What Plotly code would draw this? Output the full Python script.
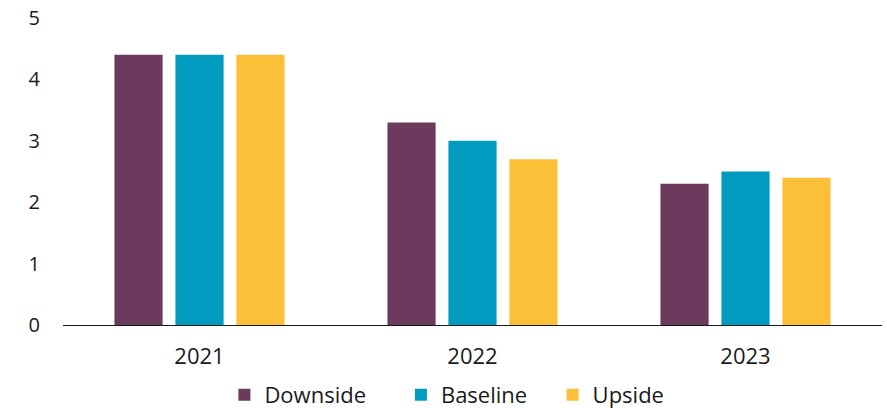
import plotly.graph_objects as go

years = ["2021", "2022", "2023"]
downside = [4.4, 3.3, 2.3]
baseline = [4.4, 3.0, 2.5]
upside = [4.4, 2.7, 2.4]

series = [("Downside", downside, "#6B3A5C", "legend", 0.253),
          ("Baseline", baseline, "#009BBE", "legend2", 0.452),
          ("Upside", upside, "#FBC037", "legend3", 0.623)]

fig = go.Figure()
legend_layout = {}
for name, vals, col, leg, lx in series:
    fig.add_trace(go.Bar(x=years, y=vals, name=name, marker_color=col,
                         marker_line_width=0, legend=leg))
    legend_layout[leg] = dict(orientation="h", xref="container", x=lx, xanchor="left",
                              yref="container", y=0.032, yanchor="middle",
                              font=dict(size=22), itemwidth=30,
                              bgcolor="rgba(0,0,0,0)")

fig.update_layout(
    width=887, height=408,
    margin=dict(l=63, r=5, t=18, b=83, autoexpand=False),
    paper_bgcolor="white", plot_bgcolor="white",
    font=dict(family="Open Sans, sans-serif", size=22, color="#1a1a1a"),
    barmode="group", bargap=0.33, bargroupgap=0.21,
    showlegend=True,
    xaxis=dict(showline=True, linecolor="#1a1a1a", linewidth=1, ticks="",
               showgrid=False, ticklabelstandoff=12, tickfont=dict(size=22)),
    yaxis=dict(range=[0, 5], dtick=1, showgrid=False, zeroline=False,
               showline=False, ticks="", ticklabelstandoff=22,
               tickfont=dict(size=20)),
    **legend_layout,
)

fig.write_html("out.html")
